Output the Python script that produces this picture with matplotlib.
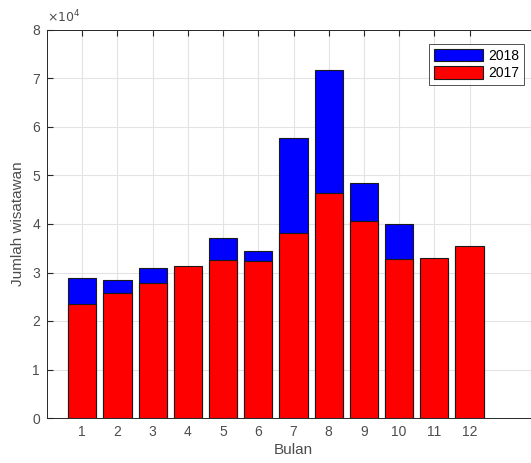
import matplotlib
matplotlib.use('Agg')
import matplotlib.pyplot as plt
import numpy as np

plt.rcParams['font.family'] = ['Liberation Sans', 'DejaVu Sans']

# data jumlah wisatawan per bulan
bulan = np.arange(1, 13)
wisatawan_2018 = [28900, 28500, 31000, 30500, 37200, 34500, 57800, 71800, 48500, 40100, 32000, 35300]
wisatawan_2017 = [23500, 25700, 27800, 31300, 32600, 32400, 38200, 46300, 40700, 32800, 32900, 35500]
labels = ['2018', '2017']

fig = plt.figure(figsize=(5.31, 4.63), dpi=100)
ax = fig.add_axes([47/531, 45/463, 493/531, 388/463])

ax.bar(bulan, wisatawan_2018, width=0.8, color='#0000ff', edgecolor='#1a1a1a', linewidth=0.8, label=labels[0], zorder=3)
ax.bar(bulan, wisatawan_2017, width=0.8, color='#ff0000', edgecolor='#1a1a1a', linewidth=0.8, label=labels[1], zorder=4)

ax.set_xlim(0, 14)
ax.set_ylim(0, 80000)
ax.set_xticks(bulan)
ax.set_yticks(np.arange(0, 80001, 10000))
ax.set_yticklabels([str(i) for i in range(9)])
ax.grid(True, color='#e3e3e3', linewidth=0.8, zorder=0)
ax.tick_params(direction='in', top=True, right=True, labelsize=10, colors='#262626',
               labelcolor='#4d4d4d', length=4, pad=5)
for s in ax.spines.values():
    s.set_color('#262626')
    s.set_linewidth(0.7)

ax.text(0.0, 1.012, r'$\times 10^4$', transform=ax.transAxes, fontsize=9, color='#4d4d4d',
        ha='left', va='bottom')

ax.set_xlabel('Bulan', fontsize=11, color='#4d4d4d', labelpad=3)
ax.set_ylabel('Jumlah wisatawan', fontsize=11, color='#4d4d4d', labelpad=5)

leg = ax.legend(loc='upper right', bbox_to_anchor=(477/493, 374/388), fontsize=10, frameon=True,
                fancybox=False, edgecolor='#262626', handlelength=3.5, handleheight=1.0,
                borderpad=0.35, labelspacing=0.25, handletextpad=0.4, borderaxespad=0)
leg.get_frame().set_linewidth(0.7)

fig.savefig('out.png', dpi=100)
